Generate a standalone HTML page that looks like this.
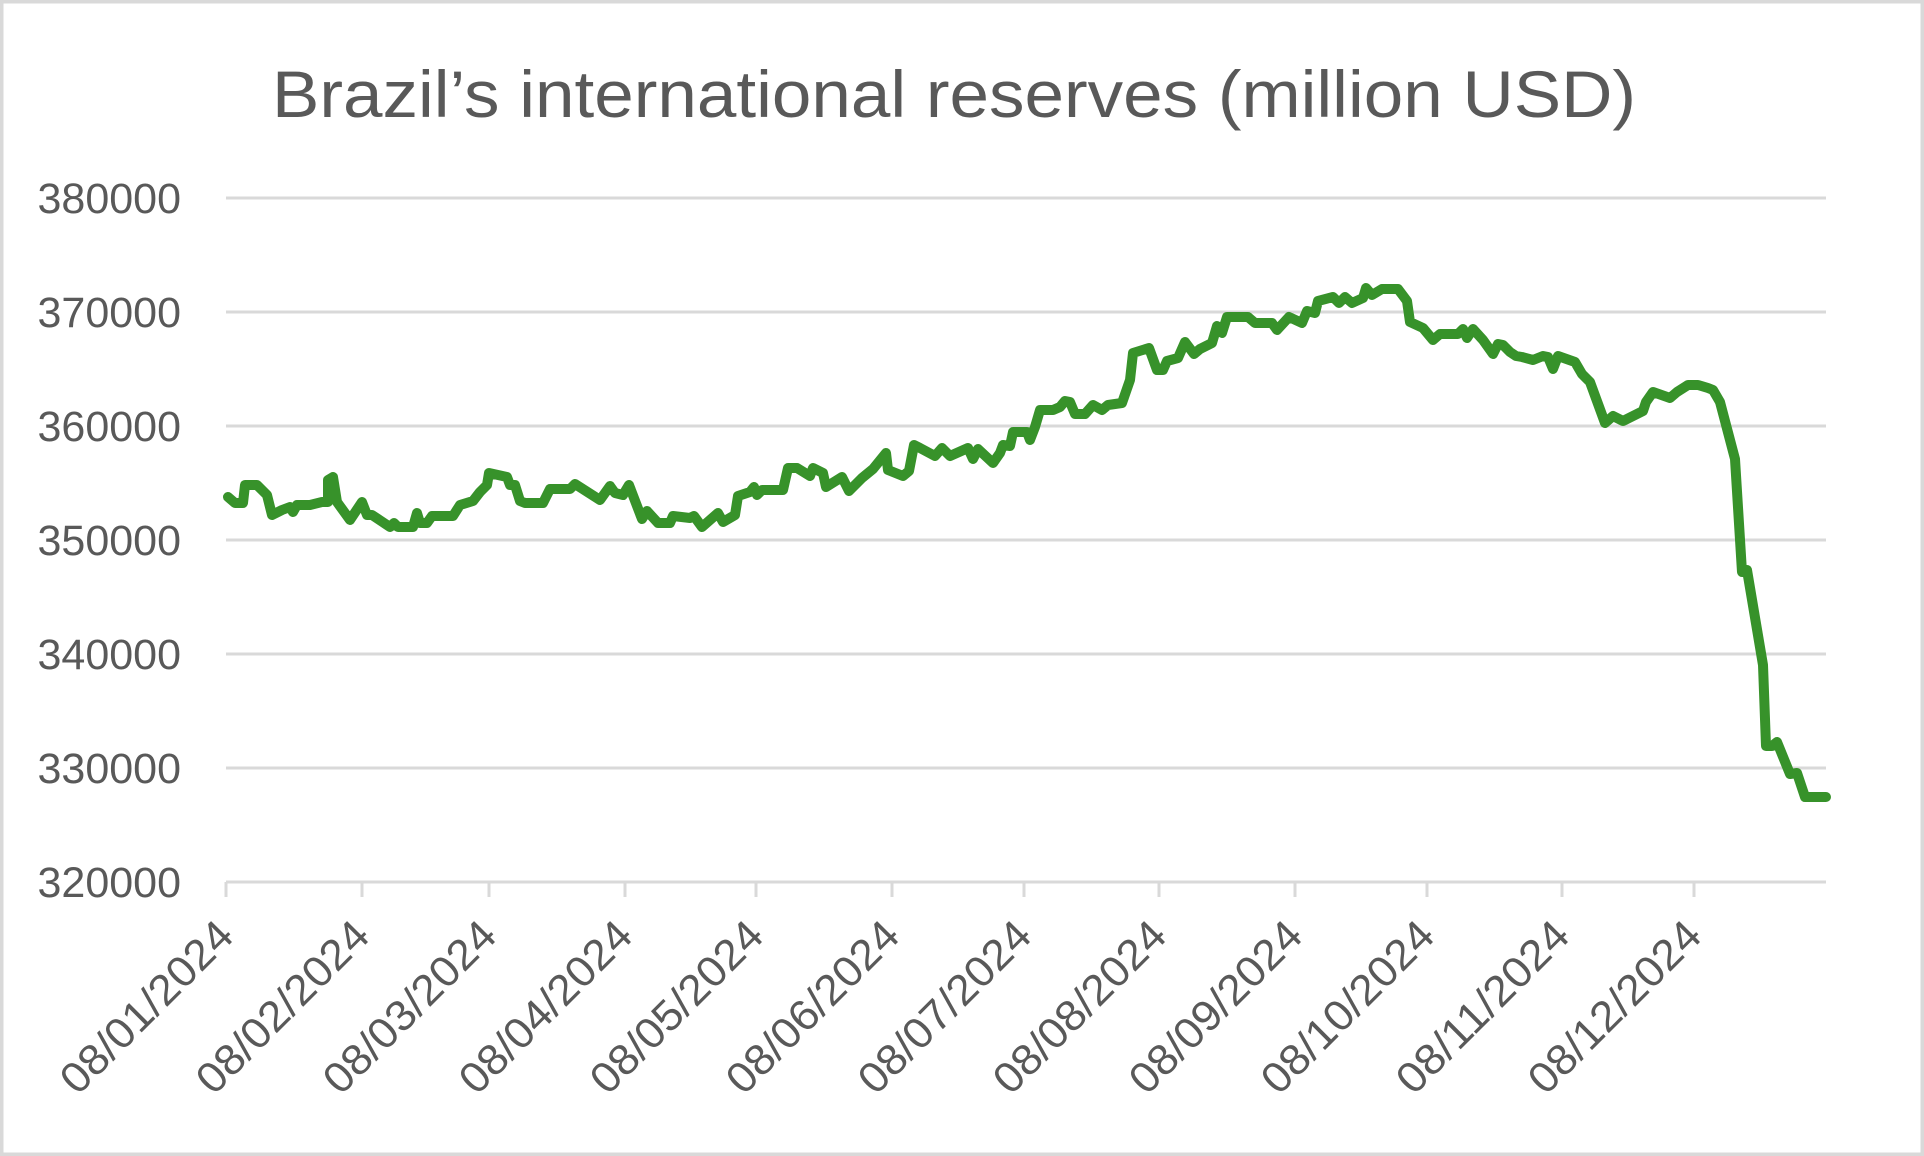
<!DOCTYPE html>
<html>
<head>
<meta charset="utf-8">
<style>
  html, body { margin: 0; padding: 0; background: #ffffff; }
  svg { display: block; }
  text { font-family: "Liberation Sans", Arial, sans-serif; fill: #595959; }
</style>
</head>
<body>
<svg width="1924" height="1156" viewBox="0 0 1924 1156" xmlns="http://www.w3.org/2000/svg">
  <rect x="0" y="0" width="1924" height="1156" fill="#ffffff"/>
  <rect x="1.75" y="1.75" width="1920.5" height="1152.5" fill="none" stroke="#d9d9d9" stroke-width="3.5"/>

  <!-- Title -->
  <text x="272" y="117" font-size="66" textLength="1364" lengthAdjust="spacingAndGlyphs">Brazil’s international reserves (million USD)</text>

  <!-- Gridlines -->
  <g stroke="#d9d9d9" stroke-width="3">
    <line x1="226" y1="198" x2="1826" y2="198"/>
    <line x1="226" y1="312" x2="1826" y2="312"/>
    <line x1="226" y1="426" x2="1826" y2="426"/>
    <line x1="226" y1="540" x2="1826" y2="540"/>
    <line x1="226" y1="654" x2="1826" y2="654"/>
    <line x1="226" y1="768" x2="1826" y2="768"/>
    <line x1="226" y1="882" x2="1826" y2="882"/>
  </g>
  <!-- Ticks -->
  <g stroke="#d9d9d9" stroke-width="3">
    <line x1="226" y1="882" x2="226" y2="897"/>
    <line x1="362" y1="882" x2="362" y2="897"/>
    <line x1="489" y1="882" x2="489" y2="897"/>
    <line x1="625" y1="882" x2="625" y2="897"/>
    <line x1="756" y1="882" x2="756" y2="897"/>
    <line x1="892" y1="882" x2="892" y2="897"/>
    <line x1="1024" y1="882" x2="1024" y2="897"/>
    <line x1="1159" y1="882" x2="1159" y2="897"/>
    <line x1="1295" y1="882" x2="1295" y2="897"/>
    <line x1="1427" y1="882" x2="1427" y2="897"/>
    <line x1="1562" y1="882" x2="1562" y2="897"/>
    <line x1="1694" y1="882" x2="1694" y2="897"/>
  </g>

  <!-- Y labels -->
  <g font-size="43" text-anchor="end">
    <text x="181" y="213">380000</text>
    <text x="181" y="327">370000</text>
    <text x="181" y="441">360000</text>
    <text x="181" y="555">350000</text>
    <text x="181" y="669">340000</text>
    <text x="181" y="783">330000</text>
    <text x="181" y="897">320000</text>
  </g>

  <!-- X labels -->
  <g font-size="43" text-anchor="end">
    <text transform="translate(236,938) rotate(-45)" textLength="224" lengthAdjust="spacingAndGlyphs">08/01/2024</text>
    <text transform="translate(372,938) rotate(-45)" textLength="224" lengthAdjust="spacingAndGlyphs">08/02/2024</text>
    <text transform="translate(499,938) rotate(-45)" textLength="224" lengthAdjust="spacingAndGlyphs">08/03/2024</text>
    <text transform="translate(635,938) rotate(-45)" textLength="224" lengthAdjust="spacingAndGlyphs">08/04/2024</text>
    <text transform="translate(766,938) rotate(-45)" textLength="224" lengthAdjust="spacingAndGlyphs">08/05/2024</text>
    <text transform="translate(902,938) rotate(-45)" textLength="224" lengthAdjust="spacingAndGlyphs">08/06/2024</text>
    <text transform="translate(1034,938) rotate(-45)" textLength="224" lengthAdjust="spacingAndGlyphs">08/07/2024</text>
    <text transform="translate(1169,938) rotate(-45)" textLength="224" lengthAdjust="spacingAndGlyphs">08/08/2024</text>
    <text transform="translate(1305,938) rotate(-45)" textLength="224" lengthAdjust="spacingAndGlyphs">08/09/2024</text>
    <text transform="translate(1437,938) rotate(-45)" textLength="224" lengthAdjust="spacingAndGlyphs">08/10/2024</text>
    <text transform="translate(1572,938) rotate(-45)" textLength="224" lengthAdjust="spacingAndGlyphs">08/11/2024</text>
    <text transform="translate(1704,938) rotate(-45)" textLength="224" lengthAdjust="spacingAndGlyphs">08/12/2024</text>
  </g>

  <!-- Series -->
  <polyline fill="none" stroke="#37922a" stroke-width="10" stroke-linejoin="round" stroke-linecap="round"
    points="228,497 235,503 243,503 245,485 257,485 267,495 272,515 282,510 290,507 293,512 297,505 310,505 322,502 328,502 328,480 333,477 337,502 350,520 362,502 367,515 372,515 390,527 394,523 398,527 413,527 417,513 420,523 427,523 432,516 453,516 460,505 473,501 480,492 487,485 489,473 507,477 510,485 515,485 520,501 525,503 543,503 550,489 570,489 575,484 600,500 610,486 615,493 623,495 629,485 642,519 647,511 658,523 670,523 673,516 690,518 694,516 702,527 718,513 723,522 735,515 738,496 750,492 754,487 757,495 762,490 783,490 788,468 797,468 810,476 813,468 823,473 826,487 842,477 849,491 862,478 873,469 886,453 888,470 903,476 909,471 914,445 920,448 935,456 942,448 950,456 968,448 973,459 978,449 993,463 1000,453 1003,445 1010,446 1013,432 1027,432 1030,440 1035,427 1040,410 1053,410 1060,407 1065,401 1070,402 1075,414 1085,414 1093,405 1102,410 1108,405 1122,403 1130,380 1133,353 1149,348 1157,370 1163,370 1167,361 1178,358 1185,342 1194,354 1200,349 1212,343 1217,326 1222,333 1227,317 1248,317 1255,323 1272,323 1277,330 1289,317 1302,323 1307,311 1315,313 1318,301 1333,297 1339,303 1345,297 1352,303 1363,298 1366,288 1372,295 1382,289 1398,289 1407,301 1410,322 1423,328 1433,340 1440,334 1458,334 1463,329 1467,338 1473,329 1483,340 1493,354 1498,344 1503,345 1510,352 1516,356 1522,357 1533,360 1543,356 1548,357 1553,369 1558,356 1575,362 1582,374 1590,382 1605,423 1613,416 1623,421 1637,414 1643,411 1646,402 1653,392 1670,398 1677,392 1688,385 1698,385 1708,388 1713,390 1720,402 1735,459 1742,572 1747,570 1763,665 1766,746 1772,746 1777,742 1790,774 1797,773 1805,797 1826,797"/>
</svg>
</body>
</html>
